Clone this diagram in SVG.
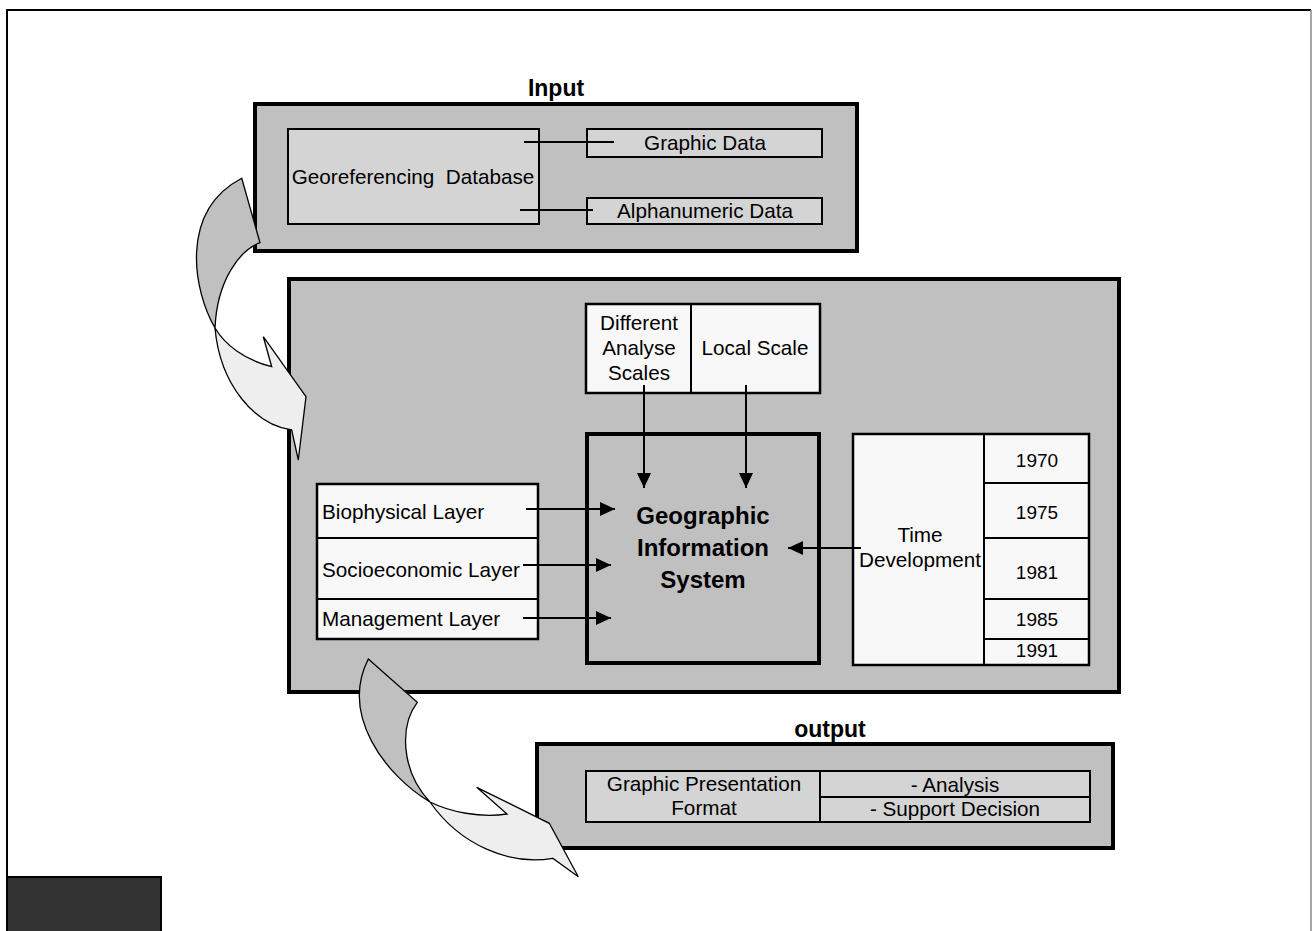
<svg xmlns="http://www.w3.org/2000/svg" width="1312" height="931" viewBox="0 0 1312 931">
<defs>
<style>
text{font-family:"Liberation Sans",Arial,sans-serif;fill:#000;font-size:20.7px}
.y{font-size:19px}
.b{font-weight:bold;font-size:23px}
.g{font-weight:bold;font-size:24px}
.c{text-anchor:middle}
.pre{white-space:pre}
.frame{fill:#c0c0c0;stroke:#000;stroke-width:4}
.light{fill:#d4d4d4;stroke:#000;stroke-width:2}
.white{fill:#f8f8f8;stroke:#000;stroke-width:2.5}
.ln{stroke:#000;stroke-width:2;fill:none}
.arr{stroke:#000;stroke-width:2;fill:none;marker-end:url(#ah)}
.big1{fill:#c0c0c0;stroke:#000;stroke-width:1.3;stroke-linejoin:miter}
.big2{fill:#eeeeee;stroke:#000;stroke-width:1.3;stroke-linejoin:miter}
</style>
<marker id="ah" markerUnits="userSpaceOnUse" markerWidth="16" markerHeight="14" refX="15" refY="7" orient="auto">
<path d="M0,0 L15,7 L0,14 z" fill="#000"/>
</marker>
</defs>
<rect width="1312" height="931" fill="#fff"/>
<g id="page-border">
<line x1="6" y1="10" x2="1311" y2="10" stroke="#000" stroke-width="2"/>
<line x1="7" y1="9" x2="7" y2="931" stroke="#000" stroke-width="2"/>
<line x1="1311" y1="10" x2="1311" y2="931" stroke="#888" stroke-width="1.5"/>
</g>

<g id="input">
<text class="b c" x="556" y="96">Input</text>
<rect class="frame" x="255" y="104" width="602" height="147"/>
</g>
<g id="georef-db">
<rect class="light" x="288" y="129" width="251" height="95"/>
<text class="c pre" x="413" y="184">Georeferencing  Database</text>
</g>
<g id="graphic-data">
<rect class="light" x="587" y="129" width="235" height="28" stroke-width="3"/>
<text class="c" x="705" y="150">Graphic Data</text>
</g>
<g id="alphanumeric-data">
<rect class="light" x="587" y="198" width="235" height="26" stroke-width="3"/>
<text class="c" x="705" y="218">Alphanumeric Data</text>
</g>

<g id="main">
<rect class="frame" x="289" y="279" width="830" height="413"/>
</g>
<g id="scales">
<rect class="white" x="586" y="304" width="234" height="89"/>
<line class="ln" x1="691" y1="304" x2="691" y2="393" stroke-width="2.5"/>
<text class="c" x="639" y="330">Different</text>
<text class="c" x="639" y="355">Analyse</text>
<text class="c" x="639" y="380">Scales</text>
<text class="c" x="755" y="355">Local Scale</text>
</g>
<g id="gis">
<rect class="frame" x="587" y="434" width="232" height="229"/>
<text class="g c" x="703" y="524">Geographic</text>
<text class="g c" x="703" y="556">Information</text>
<text class="g c" x="703" y="588">System</text>
</g>
<g id="layers">
<rect class="white" x="317" y="484" width="221" height="155"/>
<line class="ln" x1="317" y1="538" x2="538" y2="538" stroke-width="2.5"/>
<line class="ln" x1="317" y1="599" x2="538" y2="599" stroke-width="2.5"/>
<text x="322" y="519">Biophysical Layer</text>
<text x="322" y="577">Socioeconomic Layer</text>
<text x="322" y="626">Management Layer</text>
</g>
<g id="time">
<rect class="white" x="853" y="434" width="236" height="231"/>
<line class="ln" x1="984" y1="434" x2="984" y2="665" stroke-width="2.5"/>
<line class="ln" x1="984" y1="483" x2="1089" y2="483" stroke-width="2.5"/>
<line class="ln" x1="984" y1="538" x2="1089" y2="538" stroke-width="2.5"/>
<line class="ln" x1="984" y1="599" x2="1089" y2="599" stroke-width="2.5"/>
<line class="ln" x1="984" y1="639" x2="1089" y2="639" stroke-width="2.5"/>
<text class="c" x="920" y="542">Time</text>
<text class="c" x="920" y="567">Development</text>
<text class="c y" x="1037" y="467">1970</text>
<text class="c y" x="1037" y="519">1975</text>
<text class="c y" x="1037" y="579">1981</text>
<text class="c y" x="1037" y="626">1985</text>
<text class="c y" x="1037" y="657">1991</text>
</g>

<g id="output">
<text class="b c" x="830" y="737">output</text>
<rect class="frame" x="537" y="744" width="576" height="104"/>
</g>
<g id="output-table">
<rect class="light" x="586" y="771" width="504" height="51" stroke-width="2.5"/>
<line class="ln" x1="820" y1="771" x2="820" y2="822" stroke-width="2.5"/>
<line class="ln" x1="820" y1="797" x2="1090" y2="797" stroke-width="2.5"/>
<text class="c" x="704" y="791">Graphic Presentation</text>
<text class="c" x="704" y="815">Format</text>
<text class="c" x="955" y="792">- Analysis</text>
<text class="c" x="955" y="816">- Support Decision</text>
</g>

<g id="connectors">
<line class="ln" x1="524" y1="142" x2="614" y2="142"/>
<line class="ln" x1="520" y1="210" x2="593" y2="210"/>
<line class="arr" x1="644" y1="385" x2="644" y2="488"/>
<line class="arr" x1="746" y1="385" x2="746" y2="488"/>
<line class="arr" x1="526" y1="509" x2="615" y2="509"/>
<line class="arr" x1="523" y1="565" x2="611" y2="565"/>
<line class="arr" x1="523" y1="618" x2="611" y2="618"/>
<line class="arr" x1="861" y1="548" x2="788" y2="548"/>
</g>

<g id="flow-arrow-1">
<path class="big1" d="M241.7,178.3 L260,242.7 C240,250 217,280 215,328 C194,292 178,212 241.7,178.3 Z"/>
<path class="big2" d="M215,328 C225,345 245,360 271.7,366.7 L263.3,336.7 L306,396.7 L298.3,460 L291.7,430 C255,425 220,385 215,328 Z"/>
</g>
<g id="flow-arrow-2">
<path class="big1" d="M368.3,659 L417.3,702.3 C400,725 400,770 430,802 C385,775 340,715 368.3,659 Z"/>
<path class="big2" d="M430,802 C450,812 480,818 507,814 L476.7,787.3 L549.3,823.3 L578.3,876.7 L552.7,858.3 C510,866 460,845 430,802 Z"/>
</g>

<g id="corner-block">
<rect x="7" y="877" width="154" height="60" fill="#333" stroke="#000" stroke-width="2"/>
</g>
</svg>
